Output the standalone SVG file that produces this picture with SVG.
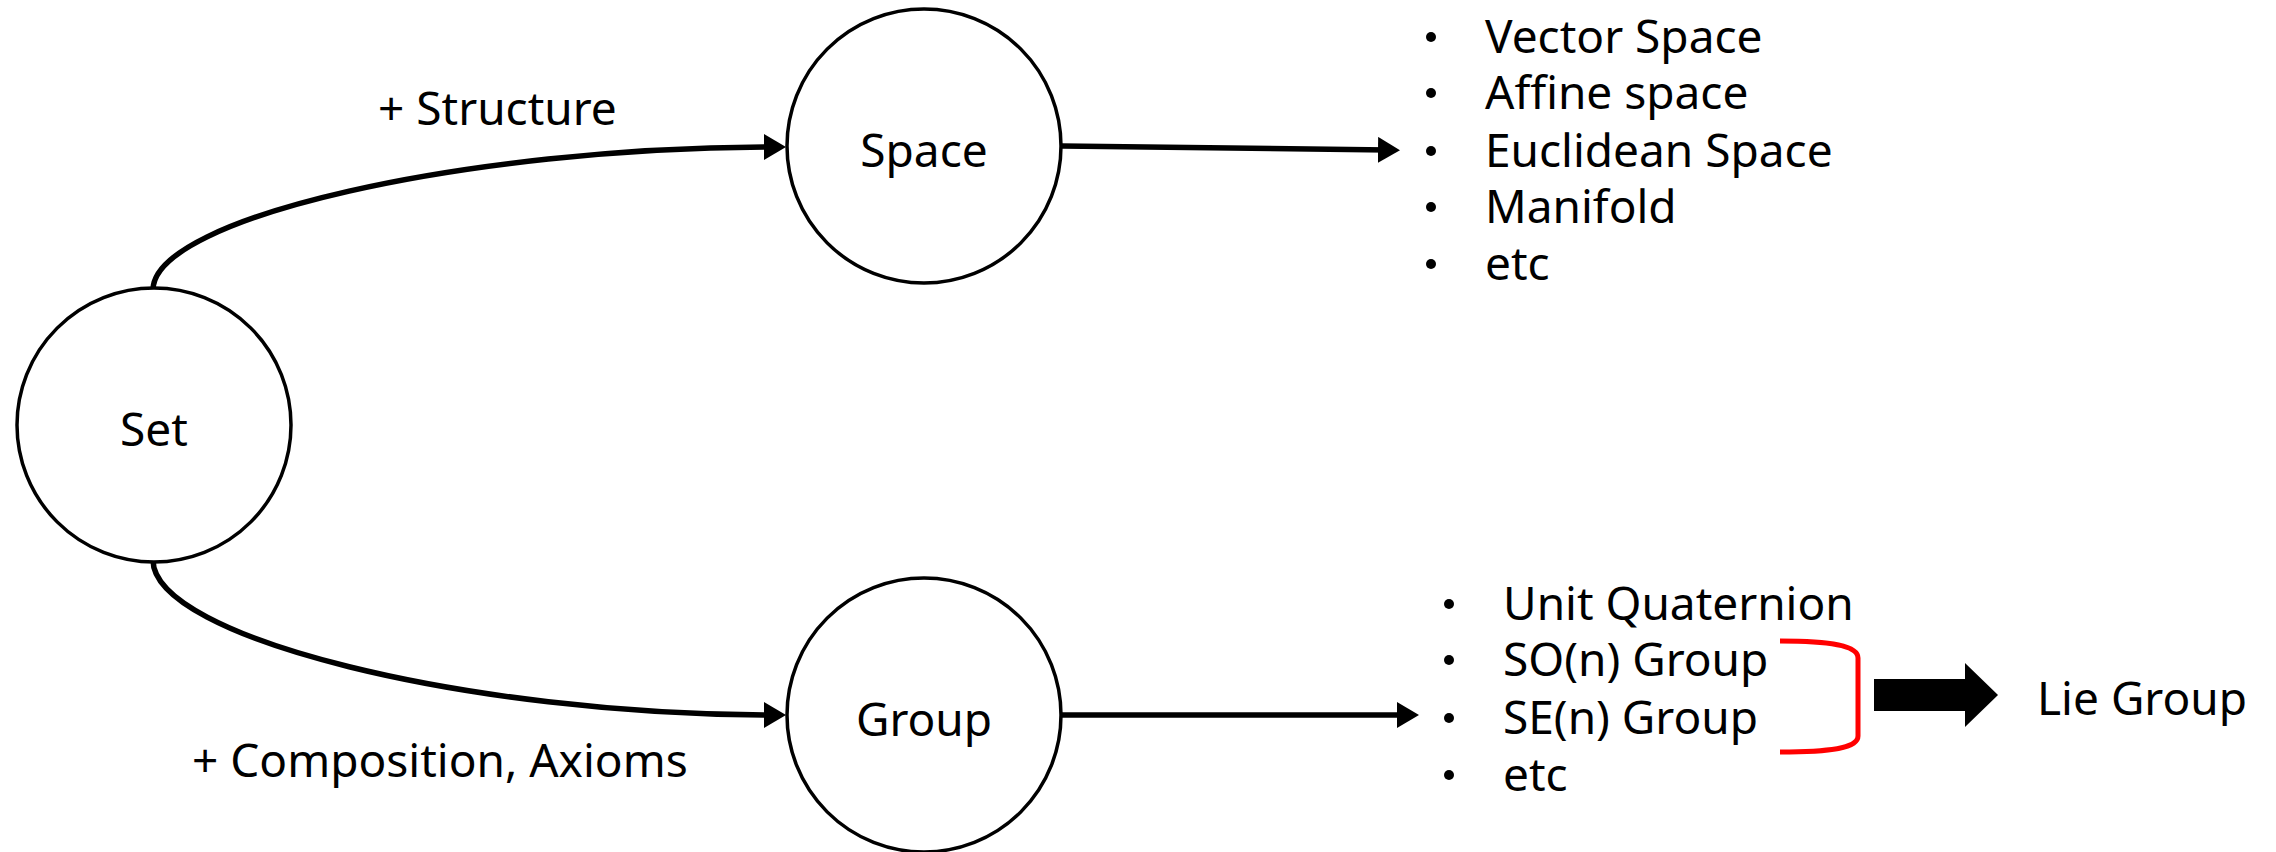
<svg xmlns="http://www.w3.org/2000/svg" width="2276" height="852" viewBox="0 0 2276 852">
<defs>
<style>
.node{fill:#fff;stroke:#000;stroke-width:3.5}
.t{font-family:"Noto Sans","Liberation Sans",sans-serif;font-size:46px;fill:#000}
.c{text-anchor:middle}
.edge{fill:none;stroke:#000;stroke-width:5.5}
.dot{fill:#000}
</style>
<marker id="ah" markerUnits="userSpaceOnUse" markerWidth="24" markerHeight="26" refX="10" refY="13" orient="auto" viewBox="0 0 24 26">
<path d="M0,0 L22,13 L0,26 z" fill="#000"/>
</marker>
</defs>
<rect width="2276" height="852" fill="#fff"/>
<g id="connectors">
<path class="edge" d="M153,290 C153,217 469,147 774,147" marker-end="url(#ah)"/>
<path class="edge" d="M153,560 C153,638 469,715 774,715" marker-end="url(#ah)"/>
<path class="edge" d="M1062,146 L1388,150" marker-end="url(#ah)"/>
<path class="edge" d="M1062,715 L1407,715" marker-end="url(#ah)"/>
<text class="t" x="378" y="125">+ Structure</text>
<text class="t" x="192" y="777">+ Composition, Axioms</text>
</g>
<g id="set">
<circle class="node" cx="154" cy="425" r="137"/>
<text class="t c" x="154" y="446">Set</text>
</g>
<g id="space">
<circle class="node" cx="924" cy="146" r="137"/>
<text class="t c" x="924" y="167">Space</text>
</g>
<g id="group">
<circle class="node" cx="924" cy="715" r="137"/>
<text class="t c" x="924" y="736">Group</text>
</g>
<g id="space-list">
<circle class="dot" cx="1431" cy="37" r="5"/>
<circle class="dot" cx="1431" cy="93" r="5"/>
<circle class="dot" cx="1431" cy="151" r="5"/>
<circle class="dot" cx="1431" cy="207" r="5"/>
<circle class="dot" cx="1431" cy="264" r="5"/>
<text class="t" x="1485" y="53">Vector Space</text>
<text class="t" x="1485" y="109">Affine space</text>
<text class="t" x="1485" y="167">Euclidean Space</text>
<text class="t" x="1485" y="223">Manifold</text>
<text class="t" x="1485" y="280">etc</text>
</g>
<g id="group-list">
<circle class="dot" cx="1449" cy="604" r="5"/>
<circle class="dot" cx="1449" cy="660" r="5"/>
<circle class="dot" cx="1449" cy="718" r="5"/>
<circle class="dot" cx="1449" cy="775" r="5"/>
<text class="t" x="1503" y="620">Unit Quaternion</text>
<text class="t" x="1503" y="676">SO(n) Group</text>
<text class="t" x="1503" y="734">SE(n) Group</text>
<text class="t" x="1503" y="791">etc</text>
</g>
<g id="bracket">
<path d="M1780,641 C1832,641 1858,646 1858,658 L1858,736 C1858,748 1832,752 1780,752" fill="none" stroke="#ff0000" stroke-width="5"/>
</g>
<g id="block-arrow">
<polygon points="1874,679 1965,679 1965,663 1998,695 1965,727 1965,711 1874,711" fill="#000"/>
</g>
<g id="lie-group">
<text class="t" x="2037" y="715">Lie Group</text>
</g>
</svg>
